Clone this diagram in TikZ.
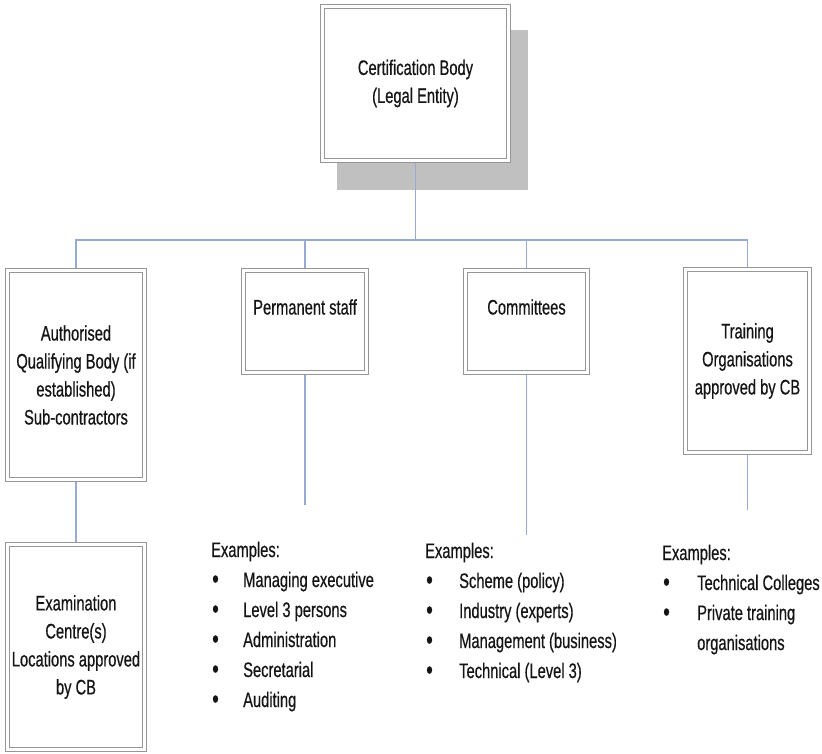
\documentclass[tikz,border=0pt]{standalone}
\usepackage{fontspec}
\setmainfont[FakeStretch=0.7,FakeBold=0.5]{Liberation Sans}
\usetikzlibrary{calc}
\definecolor{linkblue}{RGB}{150,170,212}
\definecolor{framegray}{RGB}{150,150,150}
\definecolor{shadegray}{RGB}{192,192,192}
\definecolor{inkgray}{RGB}{20,20,20}
% bullet set in a fixed-width slot so the item texts line up
\newcommand{\itm}[1]{\makebox[#1][l]{\hspace{1pt}\raisebox{-1pt}{\fontsize{27}{27}\selectfont\textbullet}}}

\begin{document}
\begin{tikzpicture}[x=1pt,y=-1pt,
  txt/.style={font=\fontsize{21}{28}\selectfont, text=inkgray},
  unit/.style={txt, draw=framegray, double=white, double distance=2.6pt,
    line width=1.2pt, fill=white, outer sep=2.5pt, inner sep=0pt, align=center},
  link/.style={draw=linkblue, line width=1.5pt},
  examples/.style={txt, font=\fontsize{21}{30}\selectfont, align=left,
    anchor=base west, inner sep=0pt}]
\useasboundingbox (0,0) rectangle (822,753);

% top unit with its drop shadow
\fill[shadegray] (337,30) rectangle (528,190);
\node[unit, minimum width=186pt, minimum height=154pt] (cb) at (415.5,83.5)
  {Certification Body\\(Legal Entity)};

% second level
\node[unit, minimum width=137pt, minimum height=209pt] (aqb) at (76,375)
  {Authorised\\Qualifying Body (if\\established)\\Sub-contractors};
\node[unit, minimum width=123pt, minimum height=102pt] (ps) at (305,321.5) {};
\node[txt] (pst) at (305,307) {Permanent staff};
\node[unit, minimum width=122pt, minimum height=102pt] (cm) at (526.5,321.5) {};
\node[txt] (cmt) at (526.5,307) {Committees};
\node[unit, minimum width=124pt, minimum height=183pt] (tr) at (747.5,361)
  {Training\\Organisations\\approved by CB};

% third level
\node[unit, minimum width=137pt, minimum height=205pt] (ec) at (76,647)
  {Examination\\Centre(s)\\Locations approved\\by CB};

% connectors
\coordinate (hub) at ($(cb.south)+(0,77)$);
\draw[link] (cb.south) -- (hub);
\draw[link] (aqb.north) -- (aqb.north |- hub) -- (tr.north |- hub) -- (tr.north);
\draw[link] (ps.north) -- (ps.north |- hub);
\draw[link] (cm.north) -- (cm.north |- hub);
\draw[link] (aqb.south) -- (ec.north);
\coordinate (psend) at (305,505);
\coordinate (cmend) at (526.5,535);
\coordinate (trend) at (747.5,510);
\draw[link] (ps.south) -- (psend);
\draw[link] (cm.south) -- (cmend);
\draw[link] (tr.south) -- (trend);

% example lists (anchored at the baseline of their last line)
\node[examples] (psl) at (211,707)
  {Examples:\\\itm{32pt}Managing executive\\\itm{32pt}Level 3 persons\\
   \itm{32pt}Administration\\\itm{32pt}Secretarial\\\itm{32pt}Auditing};
\node[examples] (cml) at (425,678)
  {Examples:\\\itm{34pt}Scheme (policy)\\\itm{34pt}Industry (experts)\\
   \itm{34pt}Management (business)\\\itm{34pt}Technical (Level 3)};
\node[examples] (trl) at (662,650)
  {Examples:\\\itm{35pt}Technical Colleges\\\itm{35pt}Private training\\
   \hspace*{35pt}organisations};
\end{tikzpicture}
\end{document}
